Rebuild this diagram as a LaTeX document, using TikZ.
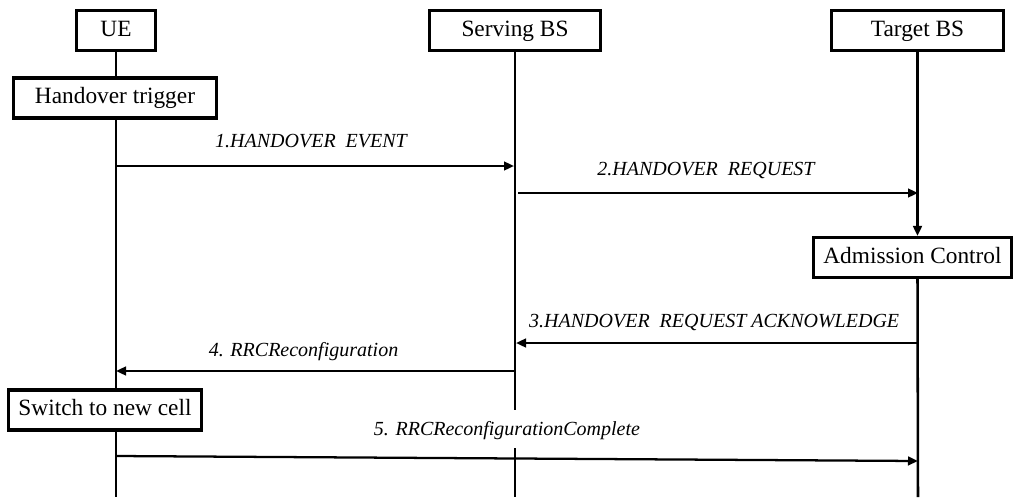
\documentclass[tikz,border=0pt]{standalone}
\usepackage{fontspec}
\setmainfont{Liberation Serif}
\usepackage{tikz}
\usetikzlibrary{arrows.meta}
\tikzset{every picture/.style={line width=0.75pt}}
\tikzset{
  entity/.style={draw, line width=2.3pt, fill=white, minimum height=30pt, inner sep=0.75pt, text height=12pt, text depth=3.5pt, font=\fontsize{17.5}{20}\selectfont},
  lifeline/.style={line width=1.9pt},
  msgarrow/.style={line width=1.7pt, -{Triangle[length=7.5pt,width=6.5pt]}},
  msg/.style={above, inner xsep=0pt, inner ysep=11pt, text depth=0pt, font=\fontsize{15}{18}\selectfont\itshape}
}

\begin{document}
\begin{tikzpicture}[x=0.75pt,y=0.75pt,yscale=-1,xscale=1]
		\useasboundingbox (0,0) rectangle (1015,497);
		
		% Text Node
		\node [entity, minimum width=59.5pt] (ue) at (116,30.5) {UE};
		% Text Node
		\node [entity, minimum width=128pt] (sbs) at (515,30.5) {Serving BS};
		% Text Node
		\node [entity, minimum width=129pt] (tbs) at (917.5,30.5) {Target BS};
		% Text Node
		\node [entity, minimum width=152pt] (trig) at (115,98) {Handover trigger};
		% Text Node
		\node [entity, minimum width=149pt] (adm) at (912.5,257.5) {Admission Control};
		% Text Node
		\node [entity, minimum width=145pt] (sw) at (105,410) {Switch to new cell};
		
		\coordinate (ueEnd) at (116,497);
		\coordinate (sbsGapA) at (515,410);
		\coordinate (sbsGapB) at (515,448);
		\coordinate (sbsEnd) at (515,497);
		\coordinate (tbsEnd) at (918,497);
		
		%Straight Lines (lifelines)
		\draw [lifeline] (ue.south) -- (ue.south |- trig.north) ;
		\draw [lifeline] (ue.south |- trig.south) -- (ue.south |- sw.north) ;
		\draw [lifeline] (ue.south |- sw.south) -- (ueEnd) ;
		\draw [lifeline] (sbs.south) -- (sbsGapA) ;
		\draw [lifeline] (sbsGapB) -- (sbsEnd) ;
		\draw [lifeline, -{Triangle[length=7.5pt,width=6.5pt]}] (tbs.south) -- (tbs.south |- adm.north) ;
		\draw [lifeline] (tbs.south |- adm.south) -- (tbsEnd) ;
		
		\coordinate (m1s) at (116,166);
		\coordinate (m1e) at (514,166);
		\coordinate (m2s) at (518,193);
		\coordinate (m2e) at (918,193);
		\coordinate (m3s) at (918,343);
		\coordinate (m3e) at (516,343);
		\coordinate (m4s) at (515,371);
		\coordinate (m4e) at (116,371);
		\coordinate (m5s) at (116,456);
		\coordinate (m5e) at (918,461);
		
		%Straight Lines (messages)
		\draw [msgarrow] (m1s) -- node [msg, pos=0.49, inner ysep=13pt] {1.HANDOVER\ \ EVENT} (m1e) ;
		\draw [msgarrow] (m2s) -- node [msg, pos=0.47, inner ysep=12pt] {2.HANDOVER\ \ REQUEST} (m2e) ;
		\draw [msgarrow] (m3s) -- node [msg, pos=0.507] {3.HANDOVER\ \ REQUEST ACKNOWLEDGE} (m3e) ;
		\draw [msgarrow] (m4s) -- node [msg, pos=0.53, inner ysep=10pt] {4. RRCReconfiguration} (m4e) ;
		\draw [msgarrow] (m5s) -- node [msg, pos=0.4875, inner ysep=16pt] {5. RRCReconfigurationComplete} (m5e) ;
		
	\end{tikzpicture}
\end{document}
